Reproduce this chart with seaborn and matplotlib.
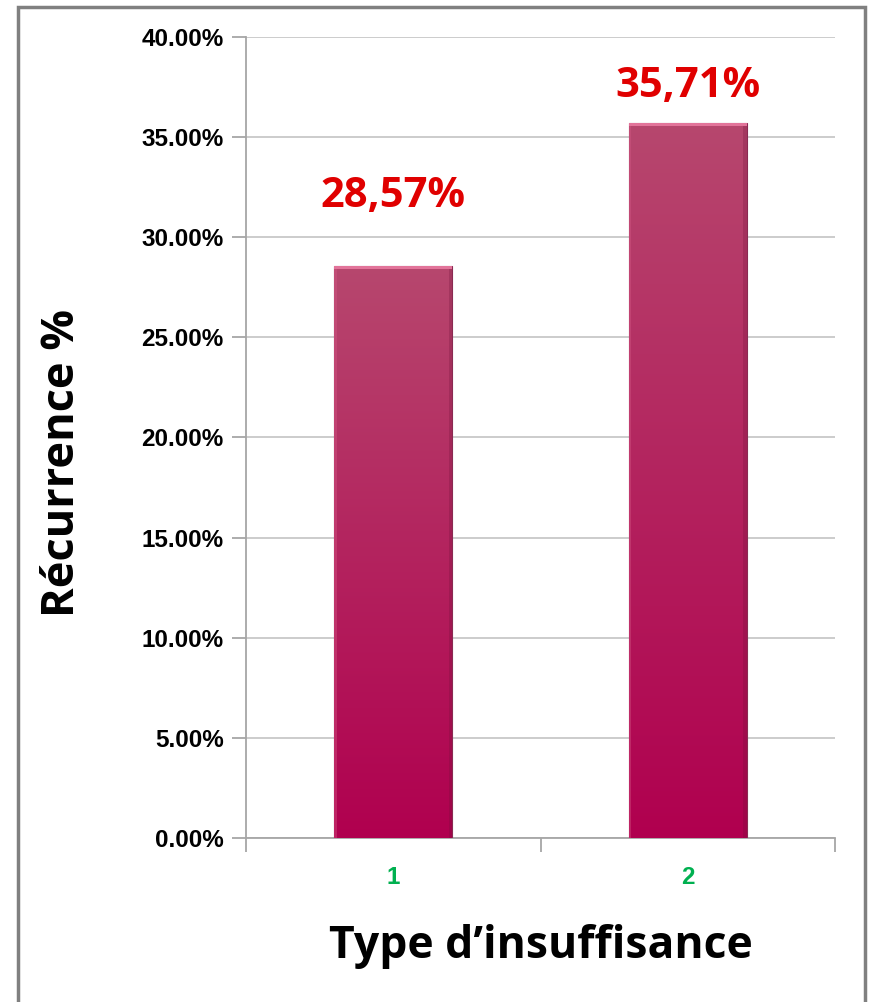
import numpy as np
import pandas as pd
import seaborn as sns
import matplotlib
matplotlib.use("Agg")
import matplotlib.pyplot as plt
from matplotlib.colors import LinearSegmentedColormap
from matplotlib.patches import Rectangle
from matplotlib.ticker import FuncFormatter, FixedLocator

categories = ["1", "2"]
values = [28.57, 35.71]
value_labels = ["28,57%", "35,71%"]
y_ticks = [0, 5, 10, 15, 20, 25, 30, 35, 40]

# label baseline offsets above bar tops (in axis units)
label_offsets = [2.94, 1.29]

sns.set_theme(style="white")
plt.rcParams['font.family'] = ['Liberation Sans', 'DejaVu Sans']

fig = plt.figure(figsize=(8.69, 10.02), dpi=100)
ax = fig.add_axes([0.2831, 0.1637, 0.6778, 0.7994])

df = pd.DataFrame({"cat": categories, "val": values})
sns.barplot(data=df, x="cat", y="val", ax=ax, width=0.4, color="#B00050",
            edgecolor="#8a2a52", linewidth=0.8, zorder=3)

cmap = LinearSegmentedColormap.from_list("g", ["#B0004F", "#B7476E"])
grad = np.linspace(0, 1, 256).reshape(-1, 1)
for p in list(ax.patches):
    x0, y0 = p.get_x(), p.get_y()
    w, h = p.get_width(), p.get_height()
    im = ax.imshow(grad, cmap=cmap, aspect="auto", origin="lower",
                   extent=[x0, x0 + w, y0, y0 + h], zorder=3.5)
    im.set_clip_path(p)
    # bevel: light top, darker right edge
    ax.add_patch(Rectangle((x0, y0 + h - 0.18), w, 0.18, color="#E2749A",
                           zorder=4, linewidth=0))
    ax.add_patch(Rectangle((x0 + w - 0.012, y0), 0.012, h - 0.18,
                           color="#6e1038", alpha=0.25, zorder=4, linewidth=0))
    ax.add_patch(Rectangle((x0, y0), 0.008, h - 0.18,
                           color="#d45a86", alpha=0.4, zorder=4, linewidth=0))

ax.set_xlim(-0.5, 1.5)
ax.set_ylim(0, 40)
ax.yaxis.set_major_locator(FixedLocator(y_ticks))
ax.yaxis.set_major_formatter(FuncFormatter(lambda v, pos: f"{v:.2f}%"))
ax.grid(axis="y", color="#BFBFBF", linewidth=1.1, zorder=0)
ax.set_axisbelow(True)

for s in ["top", "right"]:
    ax.spines[s].set_visible(False)
for s in ["left", "bottom"]:
    ax.spines[s].set_color("#A6A6A6")
    ax.spines[s].set_linewidth(1.3)

ax.tick_params(axis="y", which="major", left=True, length=10, width=1.3,
               color="#A6A6A6", labelsize=17.5, pad=6)
for t in ax.get_yticklabels():
    t.set_fontweight("bold")
    t.set_color("black")

ax.set_xticks([0, 1])
ax.set_xticklabels(categories)
ax.set_xticks([-0.5, 0.5, 1.5], minor=True)
ax.tick_params(axis="x", which="major", bottom=False, length=0,
               labelsize=17.5, pad=20)
ax.tick_params(axis="x", which="minor", bottom=True, length=10, width=1.3,
               color="#A6A6A6")
for t in ax.get_xticklabels():
    t.set_fontweight("bold")
    t.set_color("#00B050")

ax.set_xlabel("Type d\u2019insuffisance", fontsize=32, fontweight="bold",
              family=["Open Sans", "DejaVu Sans"], color="black")
ax.set_ylabel("R\u00e9currence %", fontsize=32.5, fontweight="bold",
              family=["Open Sans", "DejaVu Sans"], color="black")
ax.xaxis.set_label_coords(0.5, -0.108)
ax.yaxis.set_label_coords(-0.274, 0.468)

for i, (v, lab, off) in enumerate(zip(values, value_labels, label_offsets)):
    ax.text(i, v + off, lab, ha="center", va="baseline", fontsize=30,
            fontweight="bold", color="#E00000",
            family=["Open Sans", "DejaVu Sans"], zorder=5)

fig.patches.append(Rectangle((18 / 869, -0.05), (865 - 18) / 869,
                             1 - 7 / 1002 + 0.05, transform=fig.transFigure,
                             fill=False, edgecolor="#808080", linewidth=2.5,
                             clip_on=False))

fig.savefig("out.png", dpi=100)
